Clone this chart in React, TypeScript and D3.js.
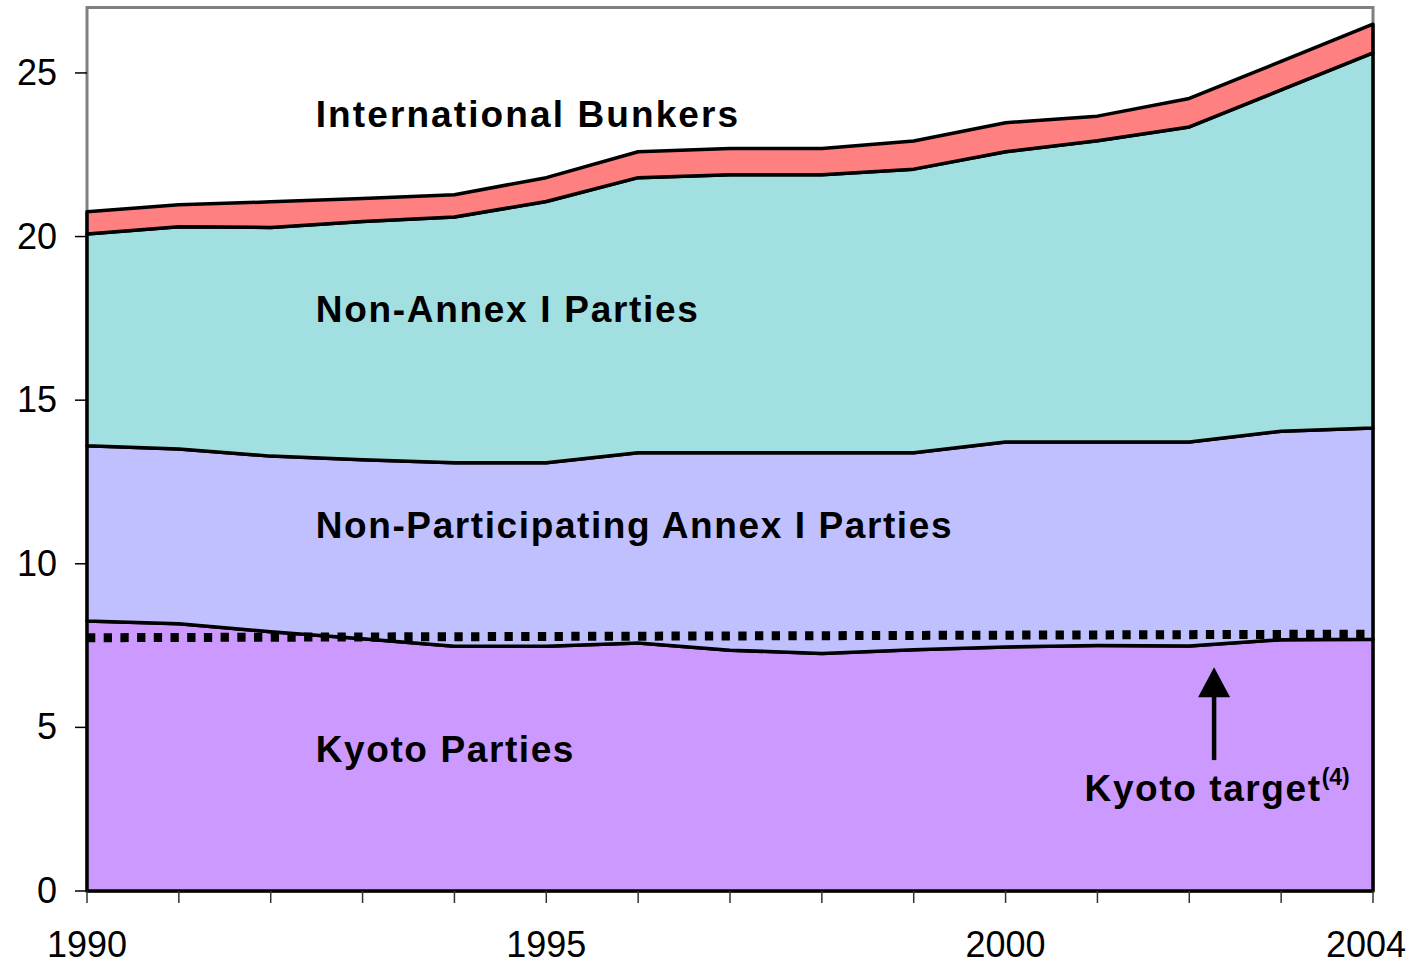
import React from "react";
import * as d3 from "d3";

// Emissions by group (stacked)
const years = [1990, 1991, 1992, 1993, 1994, 1995, 1996, 1997, 1998, 1999, 2000, 2001, 2002, 2003, 2004];
const kyotoParties = [8.25, 8.17, 7.92, 7.71, 7.48, 7.48, 7.58, 7.36, 7.26, 7.37, 7.46, 7.5, 7.49, 7.68, 7.69];
const nonParticipatingAnnexI = [5.36, 5.34, 5.37, 5.47, 5.61, 5.61, 5.81, 6.03, 6.13, 6.02, 6.26, 6.22, 6.23, 6.37, 6.46];
const nonAnnexI = [6.47, 6.79, 6.99, 7.28, 7.51, 7.98, 8.41, 8.5, 8.5, 8.67, 8.87, 9.21, 9.63, 10.43, 11.46];
const internationalBunkers = [0.68, 0.67, 0.78, 0.7, 0.68, 0.73, 0.79, 0.8, 0.8, 0.86, 0.89, 0.75, 0.87, 0.87, 0.88];

// Kyoto target line (dotted)
const targetYears = [1990, 2004];
const targetValues = [7.74, 7.85];

const yTicks = [0, 5, 10, 15, 20, 25];
const xLabels = [1990, 1995, 2000, 2004];

const seriesKeys = ["kyoto", "nonPart", "nonAnnex", "bunkers"];
const seriesColors = ["#CC99FF", "#C0C0FF", "#A1DFE0", "#FF8080"];
const seriesNames = [
  "Kyoto Parties",
  "Non-Participating Annex I Parties",
  "Non-Annex I Parties",
  "International Bunkers",
];
// label anchor (year, value) for each series name
const labelYears = [1992.49, 1992.49, 1992.49, 1992.49];
const labelValues = [3.95, 10.8, 17.4, 23.35];
const labelSpacing = [1.6, 1.6, 1.7, 2.1];

const W = 1419;
const H = 965;
const left = 87;
const right = 1373;
const bottom = 891;
const top = 7.5;

const App = () => {
  const x = d3.scaleLinear().domain([1990, 2004]).range([left, right]);
  const y = d3.scaleLinear().domain([0, 27]).range([bottom, top]);

  const rows = years.map((yr, i) => ({
    year: yr,
    kyoto: kyotoParties[i],
    nonPart: nonParticipatingAnnexI[i],
    nonAnnex: nonAnnexI[i],
    bunkers: internationalBunkers[i],
  }));

  const stacked = d3.stack<any>().keys(seriesKeys)(rows);

  const area = d3
    .area<any>()
    .x((d) => x(d.data.year))
    .y0((d) => y(d[0]))
    .y1((d) => y(d[1]));

  const targetLine = d3
    .line<number>()
    .x((d, i) => x(targetYears[i]))
    .y((d) => y(d));

  const font = "'Liberation Sans', Arial, sans-serif";
  const arrowX = x(2002.27);

  return (
    <svg
      width={W}
      height={H}
      style={{ position: "absolute", left: 0, top: 0, background: "#fff" }}
    >
      {/* plot frame */}
      <rect
        x={left}
        y={top}
        width={right - left}
        height={bottom - top}
        fill="#fff"
        stroke="#808080"
        strokeWidth={3}
      />

      {stacked.map((s, i) => (
        <path
          key={s.key}
          d={area(s) as string}
          fill={seriesColors[i]}
          stroke="#000"
          strokeWidth={3.5}
          strokeLinejoin="round"
        />
      ))}

      {/* Kyoto target */}
      <path
        d={targetLine(targetValues) as string}
        fill="none"
        stroke="#000"
        strokeWidth={9}
        strokeDasharray="8.3 8.4"
      />

      {/* y axis ticks */}
      {yTicks.map((t) => (
        <g key={t}>
          <line x1={left - 12} x2={left} y1={y(t)} y2={y(t)} stroke="#000" strokeWidth={1.5} />
          <text
            x={left - 30}
            y={y(t) + 12}
            textAnchor="end"
            fontFamily={font}
            fontSize={36}
            fill="#000"
          >
            {t}
          </text>
        </g>
      ))}

      {/* x axis ticks */}
      {years.map((yr) => (
        <line
          key={yr}
          x1={x(yr)}
          x2={x(yr)}
          y1={bottom}
          y2={bottom + 12}
          stroke="#333"
          strokeWidth={1.5}
        />
      ))}
      {xLabels.map((yr) => (
        <text
          key={yr}
          x={yr === 2004 ? x(yr) - 7 : x(yr)}
          y={bottom + 66}
          textAnchor="middle"
          fontFamily={font}
          fontSize={36}
          fill="#000"
        >
          {yr}
        </text>
      ))}

      {/* series labels */}
      {seriesNames.map((name, i) => (
        <text
          key={name}
          x={x(labelYears[i])}
          y={y(labelValues[i])}
          fontFamily={font}
          fontWeight="bold"
          fontSize={37}
          letterSpacing={labelSpacing[i]}
          fill="#000"
        >
          {name}
        </text>
      ))}

      {/* Kyoto target arrow + label */}
      <line
        x1={arrowX}
        x2={arrowX}
        y1={y(4)}
        y2={y(6)}
        stroke="#000"
        strokeWidth={4.5}
      />
      <path
        d={`M${arrowX},${y(6.84)} L${arrowX - 16},${y(5.92)} L${arrowX + 16},${y(5.92)} Z`}
        fill="#000"
      />
      <text
        x={x(2000.86)}
        y={y(2.75)}
        fontFamily={font}
        fontWeight="bold"
        fontSize={37}
        letterSpacing={1.6}
        fill="#000"
      >
        Kyoto target
        <tspan fontSize={23} dy={-16} letterSpacing={0}>
          (4)
        </tspan>
      </text>
    </svg>
  );
};

export default App;
